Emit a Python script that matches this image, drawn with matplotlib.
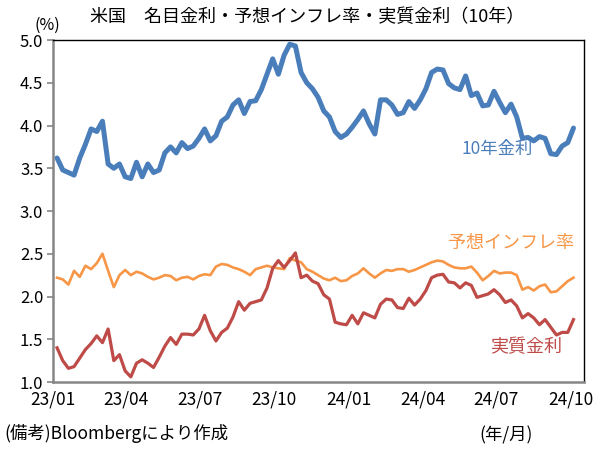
import matplotlib
matplotlib.use("Agg")
import matplotlib.pyplot as plt
import matplotlib.dates as mdates
from matplotlib.ticker import FormatStrFormatter
import pandas as pd

plt.rcParams["font.family"] = ["Noto Sans CJK JP", "DejaVu Sans"]

# ── data (weekly) ─────────────────────────────────────────────────────────────
dates = pd.date_range("2023-01-06", periods=92, freq="7D")

nominal_10y = [
    3.62, 3.48, 3.45, 3.42, 3.62, 3.78, 3.96, 3.93, 4.05, 3.55,
    3.50, 3.55, 3.40, 3.38, 3.57, 3.40, 3.55, 3.45, 3.48, 3.68,
    3.75, 3.68, 3.80, 3.73, 3.76, 3.85, 3.96, 3.82, 3.88, 4.05,
    4.10, 4.24, 4.30, 4.14, 4.28, 4.29, 4.42, 4.60, 4.78, 4.60,
    4.82, 4.95, 4.93, 4.62, 4.50, 4.43, 4.33, 4.17, 4.10, 3.93,
    3.86, 3.90, 3.98, 4.07, 4.17, 4.02, 3.90, 4.30, 4.30, 4.24,
    4.13, 4.15, 4.28, 4.20, 4.30, 4.43, 4.62, 4.66, 4.65, 4.49,
    4.44, 4.42, 4.58, 4.35, 4.38, 4.23, 4.24, 4.40, 4.27, 4.15,
    4.25, 4.10, 3.85, 3.86, 3.82, 3.87, 3.85, 3.67, 3.66, 3.76,
    3.80, 3.97,
]

breakeven_10y = [
    2.22, 2.20, 2.14, 2.30, 2.23, 2.36, 2.32, 2.39, 2.50, 2.30,
    2.11, 2.25, 2.31, 2.25, 2.29, 2.27, 2.23, 2.20, 2.22, 2.25,
    2.24, 2.19, 2.22, 2.23, 2.20, 2.24, 2.26, 2.25, 2.35, 2.38,
    2.37, 2.34, 2.32, 2.29, 2.25, 2.32, 2.34, 2.36, 2.34, 2.33,
    2.32, 2.45, 2.42, 2.40, 2.32, 2.29, 2.25, 2.21, 2.19, 2.22,
    2.18, 2.19, 2.24, 2.27, 2.33, 2.27, 2.22, 2.27, 2.31, 2.30,
    2.32, 2.32, 2.29, 2.31, 2.34, 2.37, 2.40, 2.42, 2.41, 2.37,
    2.34, 2.33, 2.33, 2.35, 2.28, 2.19, 2.24, 2.30, 2.27, 2.28,
    2.28, 2.25, 2.08, 2.11, 2.07, 2.12, 2.14, 2.05, 2.06, 2.12,
    2.18, 2.22,
]

real_10y = [
    1.40, 1.25, 1.16, 1.18, 1.28, 1.38, 1.45, 1.54, 1.46, 1.62,
    1.25, 1.32, 1.13, 1.06, 1.22, 1.26, 1.22, 1.17, 1.29, 1.42,
    1.52, 1.44, 1.56, 1.56, 1.55, 1.62, 1.78, 1.60, 1.48, 1.58,
    1.63, 1.76, 1.94, 1.84, 1.92, 1.94, 1.96, 2.10, 2.33, 2.42,
    2.34, 2.42, 2.51, 2.22, 2.25, 2.18, 2.15, 2.02, 1.97, 1.70,
    1.68, 1.67, 1.78, 1.68, 1.81, 1.78, 1.75, 1.91, 1.97, 1.96,
    1.87, 1.86, 1.98, 1.90, 1.97, 2.07, 2.22, 2.25, 2.26, 2.17,
    2.16, 2.10, 2.16, 2.13, 1.99, 2.01, 2.03, 2.08, 2.02, 1.93,
    1.96, 1.89, 1.75, 1.80, 1.75, 1.67, 1.73, 1.64, 1.55, 1.58,
    1.58, 1.73,
]

BLUE = "#4a7ebb"
ORANGE = "#f79646"
RED = "#be4b48"
GRAY = "#868686"

fig = plt.figure(figsize=(6.05, 4.49), dpi=100)
ax = fig.add_axes([0.0876, 0.1492, 0.8777, 0.7617])

ax.plot(dates, breakeven_10y, color=ORANGE, lw=1.9, solid_joinstyle="round")
ax.plot(dates, real_10y, color=RED, lw=2.3, solid_joinstyle="round")
ax.plot(dates, nominal_10y, color=BLUE, lw=3.6, solid_joinstyle="round",
        solid_capstyle="round")

ax.set_ylim(1.0, 5.0)
ax.set_yticks([1.0, 1.5, 2.0, 2.5, 3.0, 3.5, 4.0, 4.5, 5.0])
ax.yaxis.set_major_formatter(FormatStrFormatter("%.1f"))
ax.set_xlim(pd.Timestamp("2023-01-01"), pd.Timestamp("2024-10-17"))
ax.xaxis.set_major_locator(mdates.MonthLocator(bymonth=[1, 4, 7, 10]))
ax.xaxis.set_major_formatter(mdates.DateFormatter("%y/%m"))

ax.tick_params(axis="y", direction="out", length=4, width=1.2, color=GRAY,
               labelsize=12, pad=3)
ax.tick_params(axis="x", length=0, labelsize=12.5, pad=6)

for side in ("left", "bottom"):
    ax.spines[side].set_color(GRAY)
    ax.spines[side].set_linewidth(1.8)
for side in ("top", "right"):
    ax.spines[side].set_color("black")
    ax.spines[side].set_linewidth(1.0)

# series labels
ax.text(pd.Timestamp("2024-07-02"), 3.73, "10年金利", color=BLUE,
        fontsize=12.5, ha="center", va="center")
ax.text(pd.Timestamp("2024-07-19"), 2.63, "予想インフレ率", color=ORANGE,
        fontsize=13, ha="center", va="center")
ax.text(pd.Timestamp("2024-08-07"), 1.41, "実質金利", color=RED,
        fontsize=13, ha="center", va="center")

fig.text(0.507, 0.962, "米国　名目金利・予想インフレ率・実質金利（10年）",
         fontsize=13, ha="center", va="center")
fig.text(0.079, 0.943, "(%)", fontsize=11.5, ha="center", va="center")
fig.text(0.008, 0.035, "(備考)Bloombergにより作成", fontsize=12.5,
         ha="left", va="center")
fig.text(0.836, 0.030, "(年/月)", fontsize=12.5, ha="center", va="center")

fig.savefig("out.png", dpi=100, facecolor="white")
